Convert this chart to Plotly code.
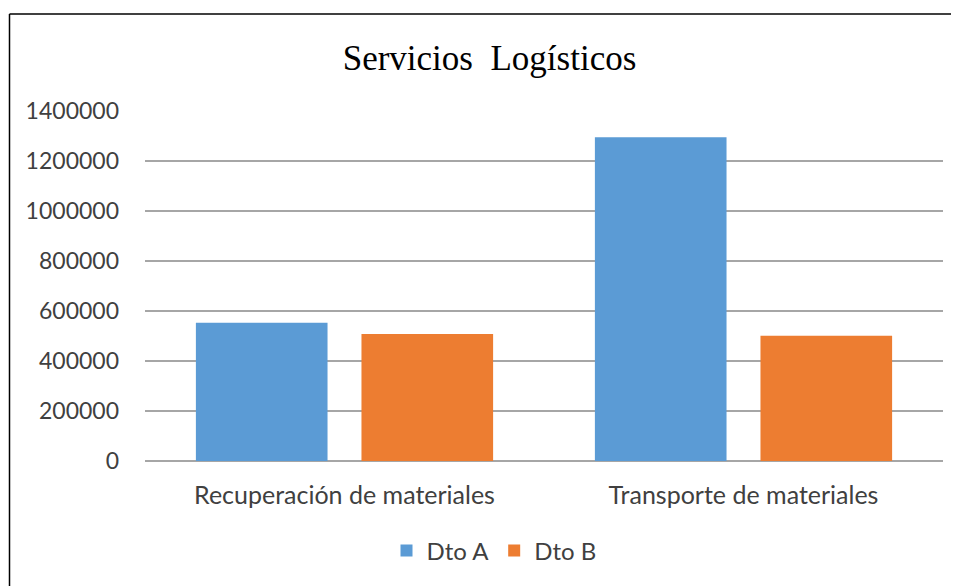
import plotly.graph_objects as go

categories = ["Recuperación de materiales", "Transporte de materiales"]
series_names = ["Dto A", "Dto B"]
dto_a = [553000, 1295000]
dto_b = [508000, 501000]
colors = ["#5B9BD5", "#ED7D31"]
y_ticks = [0, 200000, 400000, 600000, 800000, 1000000, 1200000, 1400000]

fig = go.Figure()
for name, vals, col in zip(series_names, [dto_a, dto_b], colors):
    fig.add_trace(go.Bar(x=categories, y=vals, name=name, marker=dict(color=col, line=dict(width=0))))

# page has an 8px body margin; figure coordinates are page coordinates minus 8
OFF = 8
W, H = 959 - OFF, 586 - OFF
ml, mt = 145 - OFF, 111 - OFF
pr, pb = 943 - OFF, 461 - OFF
mr = W - pr
mb = H - pb
pw = pr - ml
ph = pb - mt

fig.update_layout(
    width=W, height=H,
    margin=dict(l=ml, r=mr, t=mt, b=mb, pad=0),
    paper_bgcolor="white", plot_bgcolor="white",
    barmode="group", bargap=0.17, bargroupgap=0.205,
    title=dict(text="Servicios  Logísticos", x=(489.5 - OFF) / W, xanchor="center",
               y=1 - (58 - OFF) / H, yanchor="middle",
               font=dict(family="Liberation Serif", size=35, color="#000000")),
    font=dict(family="Lato", color="#404040"),
    xaxis=dict(showgrid=False, showline=False, ticks="", ticklabelstandoff=17,
               tickfont=dict(size=25, color="#404040")),
    yaxis=dict(range=[0, 1400000], tickvals=y_ticks, ticktext=[str(v) for v in y_ticks],
               showgrid=True, gridcolor="#A6A6A6", gridwidth=1.5, zeroline=True,
               zerolinecolor="#A6A6A6", zerolinewidth=1.5, showline=False, ticks="",
               ticklabelstandoff=25,
               tickfont=dict(size=23, color="#404040")),
    legend=dict(orientation="h", x=(494 - OFF - ml) / pw, xanchor="center",
                y=-(551 - 461) / ph, yanchor="middle",
                font=dict(size=24, color="#404040"), itemwidth=30, traceorder="normal"),
    showlegend=True,
)

x0 = (9.5 - OFF - ml) / pw
x1 = (W - ml) / pw
ytop = (pb - (14 - OFF)) / ph
ybot = -0.6
fig.add_shape(type="line", xref="paper", yref="paper", x0=x0, x1=x0, y0=ybot, y1=ytop,
              line=dict(color="#000000", width=1.5))
fig.add_shape(type="line", xref="paper", yref="paper", x0=x0, x1=x1, y0=ytop, y1=ytop,
              line=dict(color="#000000", width=1.5))

fig.write_html("out.html", config={"displayModeBar": False})
